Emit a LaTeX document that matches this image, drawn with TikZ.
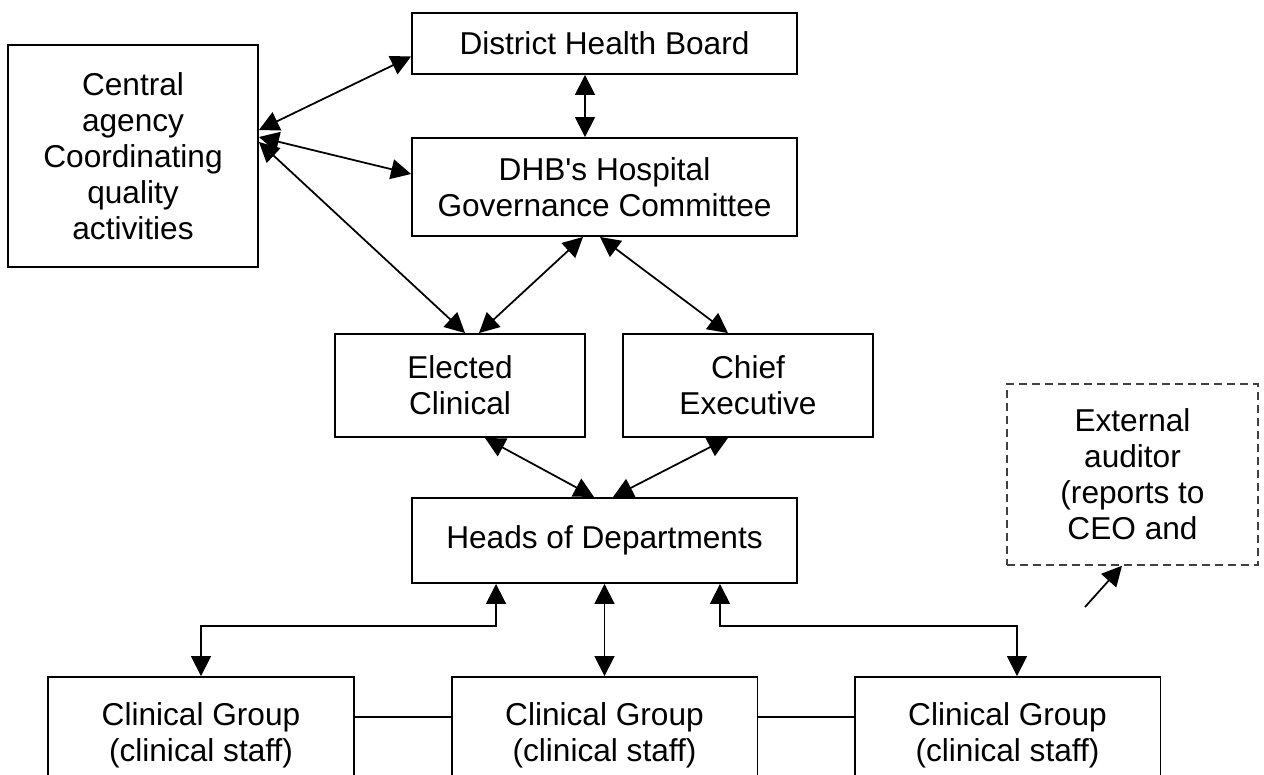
\documentclass[tikz,border=0pt]{standalone}
\usepackage{fontspec}
\setmainfont{Liberation Sans}
\usetikzlibrary{arrows.meta}

\tikzset{
	orgbox/.style={draw, line width=1.1pt, align=center, inner sep=0pt,
		font=\fontsize{18}{20.5}\selectfont},
	dashbox/.style={orgbox, draw=black!75, line width=0.9pt, dash pattern=on 0.16cm off 0.1cm},
	link/.style={line width=1pt, {Triangle[length=0.4cm,width=0.4cm]}-{Triangle[length=0.4cm,width=0.4cm]}},
	onelink/.style={line width=1pt, -{Triangle[length=0.4cm,width=0.4cm]}},
}

\begin{document}
\begin{tikzpicture}[x=0.02cm, y=-0.02cm]

		\useasboundingbox (0,0) rectangle (1264,774);

		% boxes
		\node[orgbox, minimum width=7.7cm, minimum height=1.22cm] (board) at (604.5,43.5) {District Health Board};
		\node[orgbox, minimum width=5cm, minimum height=4.44cm] (central) at (133,156) {Central\\agency\\Coordinating\\quality\\activities};
		\node[orgbox, minimum width=7.7cm, minimum height=1.96cm] (committee) at (604.5,187) {DHB\textquotesingle s Hospital\\Governance Committee};
		\node[orgbox, minimum width=5cm, minimum height=2.06cm] (elected) at (460,385.5) {Elected\\Clinical};
		\node[orgbox, minimum width=5cm, minimum height=2.06cm] (chief) at (748,385.5) {Chief\\Executive};
		\node[orgbox, minimum width=7.7cm, minimum height=1.7cm] (heads) at (604.5,540.5) {Heads of Departments};
		\node[dashbox, minimum width=5.02cm, minimum height=3.62cm] (auditor) at (1132.5,474.5) {External\\auditor\\(reports to\\CEO and};
		\node[orgbox, minimum width=6.12cm, minimum height=2.32cm] (group1) at (201,735) {Clinical Group\\(clinical staff)};
		\node[orgbox, minimum width=6.12cm, minimum height=2.32cm] (group2) at (604.5,735) {Clinical Group\\(clinical staff)};
		\node[orgbox, minimum width=6.12cm, minimum height=2.32cm] (group3) at (1007.5,735) {Clinical Group\\(clinical staff)};

		% central agency
		\draw[link] ([yshift=0.52cm]central.east) -- ([yshift=-0.26cm]board.west);
		\draw[link] ([yshift=0.38cm]central.east) -- ([yshift=0.26cm]committee.west);
		\draw[link] ([yshift=0.28cm]central.east) -- ([xshift=0.1cm]elected.north);

		% board and committee
		\draw[link] ([xshift=-0.39cm]board.south) -- ([xshift=-0.39cm]committee.north);
		\draw[link] ([xshift=-0.43cm]committee.south) -- ([xshift=0.38cm]elected.north);
		\draw[link] ([xshift=-0.09cm]committee.south) -- ([xshift=-0.4cm]chief.north);

		% heads of departments
		\draw[link] ([xshift=0.5cm]elected.south) -- ([xshift=-0.21cm]heads.north);
		\draw[link] ([xshift=-0.4cm]chief.south) -- ([xshift=0.17cm]heads.north);
		\draw[link] ([xshift=-2.17cm]heads.south) |- ([yshift=1cm]group1.north) -- (group1.north);
		\draw[link] (heads.south) -- (group2.north);
		\draw[link] ([xshift=2.31cm]heads.south) |- ([xshift=0.19cm,yshift=1cm]group3.north) -- ([xshift=0.19cm]group3.north);

		% clinical groups
		\draw[line width=1pt] ([yshift=0.36cm]group1.east) -- ([yshift=0.36cm]group2.west);
		\draw[line width=1pt] ([yshift=0.36cm]group2.east) -- ([yshift=0.36cm]group3.west);

		% auditor
		\coordinate (audittail) at (1085,607);
		\draw[onelink] (audittail) -- ([xshift=-0.21cm]auditor.south);

\end{tikzpicture}
\end{document}
